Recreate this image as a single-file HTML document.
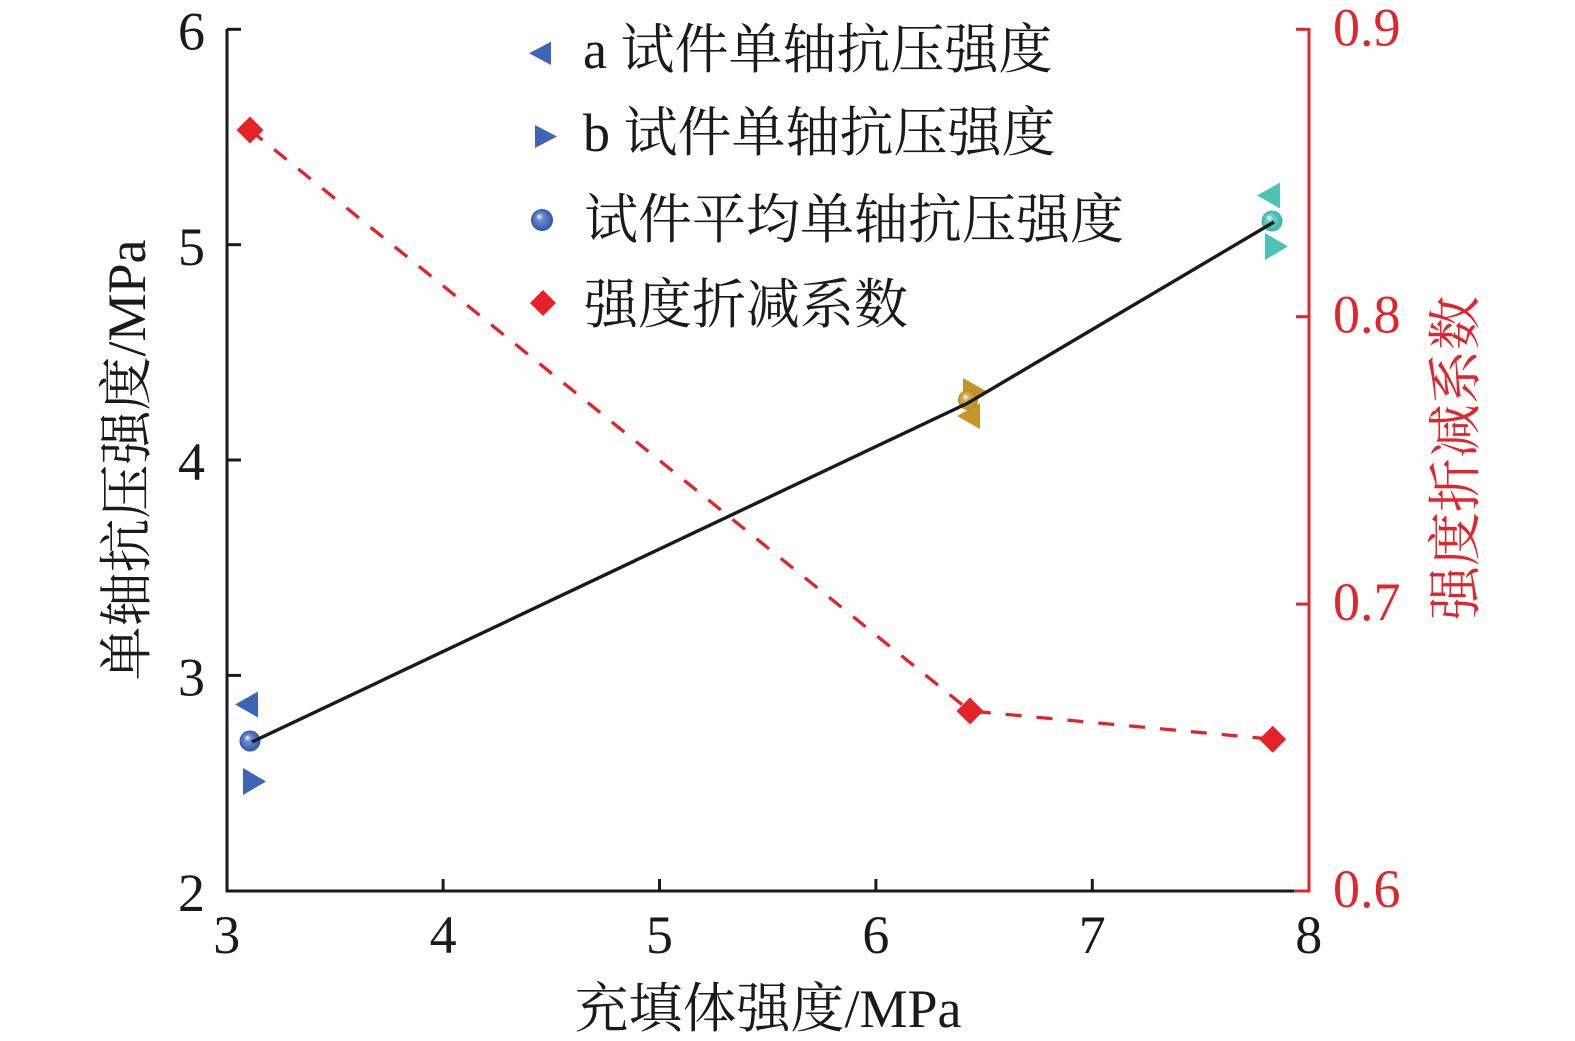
<!DOCTYPE html>
<html>
<head>
<meta charset="utf-8">
<style>
html,body{margin:0;padding:0;background:#fff;}
svg{display:block;}
text{font-family:"Liberation Serif","Noto Serif CJK SC",serif;}
</style>
</head>
<body>
<svg width="1575" height="1041" viewBox="0 0 1575 1041" xmlns="http://www.w3.org/2000/svg">
<defs>
<radialGradient id="gB" cx="0.5" cy="0.5" r="0.5" fx="0.35" fy="0.32">
<stop offset="0" stop-color="#ffffff"/>
<stop offset="0.3" stop-color="#6f8fd0"/>
<stop offset="1" stop-color="#2f55a8"/>
</radialGradient>
<radialGradient id="gG" cx="0.5" cy="0.5" r="0.5" fx="0.35" fy="0.32">
<stop offset="0" stop-color="#ffffff"/>
<stop offset="0.3" stop-color="#d8b45a"/>
<stop offset="1" stop-color="#b8881f"/>
</radialGradient>
<radialGradient id="gT" cx="0.5" cy="0.5" r="0.5" fx="0.35" fy="0.32">
<stop offset="0" stop-color="#ffffff"/>
<stop offset="0.3" stop-color="#6fd3c8"/>
<stop offset="1" stop-color="#3bb0a4"/>
</radialGradient>
</defs>

<!-- left axis -->
<line x1="227" y1="29" x2="227" y2="892" stroke="#1a1a1a" stroke-width="3"/>
<g stroke="#1a1a1a" stroke-width="3">
<line x1="227" y1="29.3" x2="241" y2="29.3"/>
<line x1="227" y1="244.7" x2="241" y2="244.7"/>
<line x1="227" y1="460" x2="241" y2="460"/>
<line x1="227" y1="675.4" x2="241" y2="675.4"/>
</g>
<!-- bottom axis -->
<line x1="226" y1="891" x2="1296" y2="891" stroke="#1a1a1a" stroke-width="3"/>
<g stroke="#1a1a1a" stroke-width="3">
<line x1="443.1" y1="879" x2="443.1" y2="891"/>
<line x1="659.5" y1="879" x2="659.5" y2="891"/>
<line x1="875.9" y1="879" x2="875.9" y2="891"/>
<line x1="1092.3" y1="879" x2="1092.3" y2="891"/>
</g>
<!-- right axis -->
<line x1="1309" y1="28" x2="1309" y2="892.5" stroke="#e0262c" stroke-width="3"/>
<g stroke="#e0262c" stroke-width="3">
<line x1="1296" y1="29.3" x2="1309" y2="29.3"/>
<line x1="1296" y1="316.7" x2="1309" y2="316.7"/>
<line x1="1296" y1="604.1" x2="1309" y2="604.1"/>
<line x1="1294" y1="891" x2="1309" y2="891"/>
</g>

<!-- left tick labels -->
<g font-size="54" fill="#1a1a1a" text-anchor="end">
<text x="205" y="49.5">6</text>
<text x="205" y="265">5</text>
<text x="205" y="480">4</text>
<text x="205" y="695.5">3</text>
<text x="205" y="911">2</text>
</g>
<!-- bottom tick labels -->
<g font-size="54" fill="#1a1a1a" text-anchor="middle">
<text x="226.7" y="953">3</text>
<text x="443.1" y="953">4</text>
<text x="659.5" y="953">5</text>
<text x="875.9" y="953">6</text>
<text x="1092.3" y="953">7</text>
<text x="1308.7" y="953">8</text>
</g>
<!-- right tick labels -->
<g font-size="54" fill="#e0262c" text-anchor="start">
<text x="1333" y="45.5">0.9</text>
<text x="1333" y="332.5">0.8</text>
<text x="1333" y="620">0.7</text>
<text x="1333" y="907">0.6</text>
</g>

<!-- axis titles -->
<text x="768" y="1027" font-size="54" fill="#1a1a1a" text-anchor="middle">充填体强度/MPa</text>
<text transform="translate(145,460) rotate(-90)" font-size="54" fill="#1a1a1a" text-anchor="middle">单轴抗压强度/MPa</text>
<text transform="translate(1474,458) rotate(-90)" font-size="54" fill="#e0262c" text-anchor="middle">强度折减系数</text>

<!-- red dashed line -->
<polyline points="250,130 970,711 1272.7,739.3" fill="none" stroke="#e52228" stroke-width="3.3" stroke-dasharray="16 15"/>

<!-- triangles blue -->
<polygon points="235,704.5 258,691.5 258,717.5" fill="#3d64b7"/>
<polygon points="243,768 243,795 266,781.5" fill="#3d64b7"/>
<!-- gold -->
<polygon points="963,378 963,404 986,391" fill="#c6952a"/>
<polygon points="957,416 980,403 980,429" fill="#c6952a"/>
<!-- teal -->
<polygon points="1257,195.5 1280,182.5 1280,208.5" fill="#4fc2b6"/>
<polygon points="1265,233 1265,260 1288,246.5" fill="#4fc2b6"/>

<!-- circles -->
<circle cx="250" cy="741" r="10.5" fill="url(#gB)"/>
<circle cx="968" cy="400" r="10" fill="url(#gG)"/>
<circle cx="1272" cy="221" r="10.5" fill="url(#gT)"/>

<!-- black line -->
<polyline points="252,742 968,403 1274,222" fill="none" stroke="#1a1a1a" stroke-width="3.4"/>

<!-- diamonds -->
<polygon points="250,116.5 263.5,130 250,143.5 236.5,130" fill="#e52228"/>
<polygon points="970,697.5 983.5,711 970,724.5 956.5,711" fill="#e52228"/>
<polygon points="1272.7,725.8 1286.2,739.3 1272.7,752.8 1259.2,739.3" fill="#e52228"/>

<!-- legend -->
<polygon points="529,53.3 551,41.7 551,65" fill="#3d64b7"/>
<polygon points="535,125 535,148 557,136.5" fill="#3d64b7"/>
<circle cx="542" cy="220" r="11" fill="url(#gB)"/>
<polygon points="543,290 556,303 543,316 530,303" fill="#e52228"/>
<g font-size="54" fill="#1a1a1a">
<text x="583" y="68">a 试件单轴抗压强度</text>
<text x="583" y="151">b 试件单轴抗压强度</text>
<text x="584" y="238">试件平均单轴抗压强度</text>
<text x="584" y="323">强度折减系数</text>
</g>
</svg>
</body>
</html>
